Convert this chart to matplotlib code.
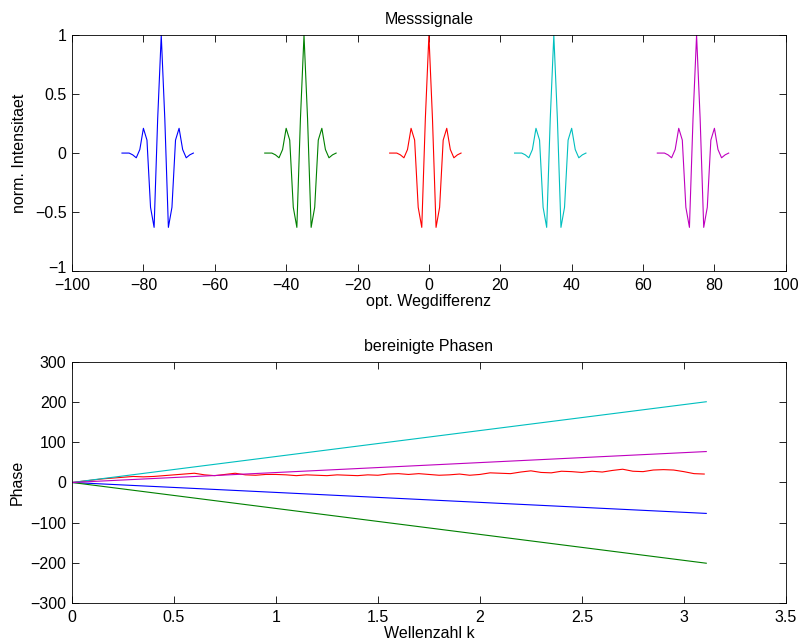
import matplotlib
matplotlib.use("Agg")
import matplotlib.pyplot as plt
import matplotlib.transforms as mtransforms
import numpy as np

plt.rcParams['font.family'] = ['Liberation Sans', 'DejaVu Sans']
plt.rcParams['font.size'] = 11.5
plt.rcParams['axes.linewidth'] = 0.6
plt.rcParams['xtick.direction'] = 'in'
plt.rcParams['ytick.direction'] = 'in'
plt.rcParams['xtick.top'] = True
plt.rcParams['ytick.right'] = True
plt.rcParams['xtick.major.size'] = 5
plt.rcParams['ytick.major.size'] = 5
plt.rcParams['xtick.major.width'] = 0.6
plt.rcParams['ytick.major.width'] = 0.6
plt.rcParams['axes.unicode_minus'] = True

# ---- top chart data: measured signals ----
pulse_centers = [-75, -35, 0, 35, 75]
pulse_colors = ['#0000ff', '#008000', '#ff0000', '#00bfbf', '#bf00bf']
pulse_offsets = [-11, -10, -9, -8, -7, -6, -5, -4, -3, -2, -1, 0,
                 1, 2, 3, 4, 5, 6, 7, 8, 9]
pulse_values = [0.0, 0.0, 0.0, -0.015, -0.04, 0.03, 0.21, 0.11, -0.46, -0.63, 0.29, 1.0,
                0.29, -0.63, -0.46, 0.11, 0.21, 0.03, -0.04, -0.015, 0.0]

top_xticks = [-100, -80, -60, -40, -20, 0, 20, 40, 60, 80, 100]
top_yticks = [-1, -0.5, 0, 0.5, 1]

# ---- bottom chart data: cleaned phases ----
line_k = [0.0, 3.11]
phase_blue = [0, -77]
phase_green = [0, -201]
phase_cyan = [0, 201]
phase_magenta = [0, 77]

red_k = [0.00, 0.05, 0.10, 0.15, 0.20, 0.25, 0.30, 0.35, 0.40, 0.45, 0.50,
         0.55, 0.60, 0.65, 0.70, 0.75, 0.80, 0.85, 0.90, 0.95, 1.00,
         1.05, 1.10, 1.15, 1.20, 1.25, 1.30, 1.35, 1.40, 1.45, 1.50,
         1.55, 1.60, 1.65, 1.70, 1.75, 1.80, 1.85, 1.90, 1.95, 2.00,
         2.05, 2.10, 2.15, 2.20, 2.25, 2.30, 2.35, 2.40, 2.45, 2.50,
         2.55, 2.60, 2.65, 2.70, 2.75, 2.80, 2.85, 2.90, 2.95, 3.00,
         3.05, 3.10]
phase_red = [0, 3, 6, 9, 11, 13, 15, 14, 15, 17, 19,
             21, 23, 19, 17, 20, 23, 19, 18, 20, 20,
             19, 17, 19, 18, 17, 19, 18, 17, 19, 18,
             21, 22, 20, 22, 20, 18, 19, 21, 18, 20,
             24, 23, 22, 26, 29, 25, 24, 28, 27, 25,
             28, 26, 30, 33, 28, 27, 31, 32, 31, 27,
             22, 21]

bot_xticks = [0, 0.5, 1, 1.5, 2, 2.5, 3, 3.5]
bot_yticks = [-300, -200, -100, 0, 100, 200, 300]

fig = plt.figure(figsize=(8.02, 6.41), dpi=100)

ax1 = fig.add_axes([0.0898, 0.5772, 0.890, 0.368])
offs = np.array(pulse_offsets)
for c, col in zip(pulse_centers, pulse_colors):
    ax1.plot(offs + c, pulse_values, color=col, lw=0.8)
ax1.set_xlim(-100, 100)
ax1.set_ylim(-1, 1)
ax1.set_xticks(top_xticks)
ax1.set_yticks(top_yticks)
ax1.set_yticklabels(['\u22121', '\u22120.5', '0', '0.5', '1'])
ax1.set_title('Messsignale', fontsize=11.5, pad=8)
ax1.set_xlabel('opt. Wegdifferenz', labelpad=1)
ax1.set_ylabel('norm. Intensitaet', labelpad=6)

ax2 = fig.add_axes([0.0898, 0.0593, 0.890, 0.376])
ax2.plot(line_k, phase_blue, color='#0000ff', lw=0.8)
ax2.plot(line_k, phase_green, color='#008000', lw=0.8)
ax2.plot(red_k, phase_red, color='#ff0000', lw=0.8)
ax2.plot(line_k, phase_cyan, color='#00bfbf', lw=0.8)
ax2.plot(line_k, phase_magenta, color='#bf00bf', lw=0.8)
ax2.set_xlim(0, 3.5)
ax2.set_ylim(-300, 300)
ax2.set_xticks(bot_xticks)
ax2.set_xticklabels(['0', '0.5', '1', '1.5', '2', '2.5', '3', '3.5'])
ax2.set_yticks(bot_yticks)
ax2.set_title('bereinigte Phasen', fontsize=11.5, pad=8)
ax2.set_xlabel('Wellenzahl k', labelpad=1)
ax2.set_ylabel('Phase', labelpad=4)

for ax in (ax1, ax2):
    ax.tick_params(axis='x', pad=5, labelsize=11.5)
    ax.tick_params(axis='y', pad=4, labelsize=11.5)

# nudge the lowest y label of the top axes up a little so it clears "-100"
lowest = ax1.get_yticklabels()[0]
lowest.set_transform(lowest.get_transform() +
                     mtransforms.ScaledTranslation(0, 3 / 72, fig.dpi_scale_trans))

fig.savefig('out.png', dpi=100)
